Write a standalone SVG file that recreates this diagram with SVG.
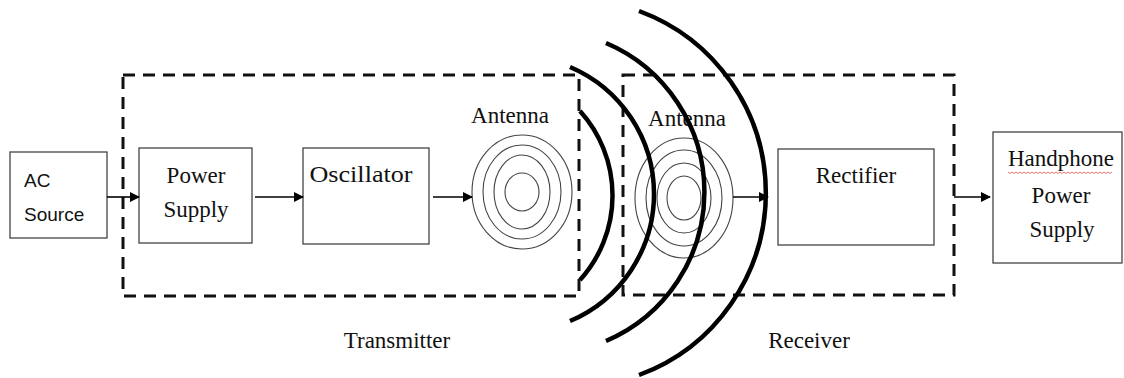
<svg xmlns="http://www.w3.org/2000/svg" width="1124" height="378" viewBox="0 0 1124 378">
<style>
.box{fill:#fff;stroke:#444;stroke-width:1.3}
.dash{fill:none;stroke:#111;stroke-width:3;stroke-dasharray:12 8}
.ring{fill:none;stroke:#444;stroke-width:1.1}
.wave{fill:none;stroke:#000;stroke-width:4.5;stroke-linecap:butt}
.conn{stroke:#000;stroke-width:1.6;fill:none}
.t{font-family:"Liberation Serif","Times New Roman",serif;font-size:23px;fill:#111;text-anchor:middle}
.s{font-family:"Liberation Sans",Arial,sans-serif;font-size:19px;fill:#111}
</style>
<defs>
<marker id="ah" markerWidth="10" markerHeight="10" refX="9" refY="5" orient="auto" markerUnits="userSpaceOnUse">
<path d="M0,0 L10,5 L0,10 Z" fill="#000"/>
</marker>
</defs>
<rect width="1124" height="378" fill="#fff"/>

<g id="transmitter">
<rect class="dash" x="123" y="75" width="456" height="221"/>
<text class="t" x="397" y="348">Transmitter</text>
</g>
<g id="receiver">
<rect class="dash" x="623" y="75" width="331" height="220"/>
<text class="t" x="809" y="348">Receiver</text>
</g>

<g id="ac-source">
<rect class="box" x="10" y="152" width="97" height="86"/>
<text class="s" x="24" y="187">AC</text>
<text class="s" x="24" y="221">Source</text>
</g>
<g id="power-supply">
<rect class="box" x="139" y="148" width="113" height="95"/>
<text class="t" x="196" y="183">Power</text>
<text class="t" x="196" y="217">Supply</text>
</g>
<g id="oscillator">
<rect class="box" x="303" y="148" width="126" height="96"/>
<text class="t" x="361" y="182" textLength="103" lengthAdjust="spacingAndGlyphs">Oscillator</text>
</g>
<g id="antenna-tx">
<ellipse class="ring" cx="522" cy="192" rx="50" ry="57"/>
<ellipse class="ring" cx="522" cy="192" rx="39" ry="47"/>
<ellipse class="ring" cx="522" cy="192" rx="28" ry="37"/>
<ellipse class="ring" cx="522" cy="192" rx="17" ry="19"/>
<text class="t" x="510" y="123">Antenna</text>
</g>
<g id="antenna-rx">
<ellipse class="ring" cx="684" cy="198" rx="49" ry="60"/>
<ellipse class="ring" cx="684" cy="198" rx="38" ry="48"/>
<ellipse class="ring" cx="684" cy="198" rx="27" ry="35"/>
<ellipse class="ring" cx="684" cy="198" rx="17" ry="22"/>
<text class="t" x="687" y="126">Antenna</text>
</g>
<g id="rectifier">
<rect class="box" x="778" y="149" width="156" height="96"/>
<text class="t" x="856" y="183">Rectifier</text>
</g>
<g id="handphone">
<rect class="box" x="993" y="132" width="129" height="131"/>
<text class="t" x="1061" y="166">Handphone</text>
<path d="M1008,172 l2,1.5 l2,-1.5 l2,1.5 l2,-1.5 l2,1.5 l2,-1.5 l2,1.5 l2,-1.5 l2,1.5 l2,-1.5 l2,1.5 l2,-1.5 l2,1.5 l2,-1.5 l2,1.5 l2,-1.5 l2,1.5 l2,-1.5 l2,1.5 l2,-1.5 l2,1.5 l2,-1.5 l2,1.5 l2,-1.5 l2,1.5 l2,-1.5 l2,1.5 l2,-1.5 l2,1.5 l2,-1.5 l2,1.5 l2,-1.5 l2,1.5 l2,-1.5 l2,1.5 l2,-1.5 l2,1.5 l2,-1.5 l2,1.5 l2,-1.5 l2,1.5 l2,-1.5 l2,1.5 l2,-1.5 l2,1.5 l2,-1.5 l2,1.5 l2,-1.5 l2,1.5 l2,-1.5 l2,1.5 l2,-1.5" fill="none" stroke="#e05050" stroke-width="0.8"/>
<text class="t" x="1061" y="203">Power</text>
<text class="t" x="1062" y="237">Supply</text>
</g>

<g id="waves">
<path class="wave" d="M580,111 A126,126 0 0 1 580,280"/>
<path class="wave" d="M570,67 A138,138 0 0 1 570,321"/>
<path class="wave" d="M606,43 A162,162 0 0 1 606,341"/>
<path class="wave" d="M639,11 A194,194 0 0 1 639,375"/>
</g>

<g id="connectors">
<line class="conn" x1="107" y1="197" x2="139" y2="197" marker-end="url(#ah)"/>
<line class="conn" x1="255" y1="197" x2="303" y2="197" marker-end="url(#ah)"/>
<line class="conn" x1="433" y1="197" x2="472" y2="197" marker-end="url(#ah)"/>
<line class="conn" x1="733" y1="197" x2="768" y2="197" marker-end="url(#ah)"/>
<line class="conn" x1="954" y1="197" x2="990" y2="197" marker-end="url(#ah)"/>
</g>
</svg>
